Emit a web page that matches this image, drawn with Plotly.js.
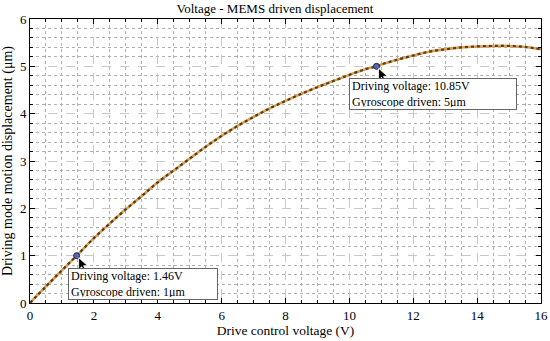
<!DOCTYPE html>
<html><head><meta charset="utf-8">
<script src="https://cdn.plot.ly/plotly-3.0.1.min.js"></script>
<style>html,body{margin:0;padding:0;background:#fff}#c{width:550px;height:341px}</style>
</head><body><div id="c"></div>
<script>
const voltage = [0,0.5,1,1.46,2,2.5,3,3.5,4,4.5,5,5.5,6,6.5,7,7.5,8,8.5,9,9.5,10,10.5,10.85,11,11.5,12,12.5,13,13.5,14,14.5,15,15.5,16];
const displacement = [0,0.35,0.69,1.0,1.37,1.68,1.98,2.26,2.55,2.8,3.05,3.3,3.53,3.74,3.93,4.11,4.27,4.42,4.56,4.69,4.82,4.94,5.0,5.04,5.14,5.23,5.31,5.36,5.40,5.42,5.43,5.43,5.41,5.36];
const markX = [1.46, 10.85];
const markY = [1, 5];
const markLabels = ['Driving voltage: 1.46V<br>Gyroscope driven: 1μm', 'Driving voltage: 10.85V<br>Gyroscope driven: 5μm'];
const labelPosX = [1.19, 10.0];
const labelPosY = [0.73, 4.75];
const labelWidths = [144, 162];

const font = 'Liberation Serif, Times New Roman, serif';
const traces = [
  {x: voltage, y: displacement, mode: 'lines', line: {color: '#d9a050', width: 2.6, shape: 'spline'}, hoverinfo: 'skip'},
  {x: voltage, y: displacement, mode: 'lines', line: {color: '#5a3a1a', width: 2.2, dash: 'dot', shape: 'spline'}},
  {x: markX, y: markY, mode: 'markers', marker: {size: 6, color: '#5566bb', line: {color: '#222244', width: 1}}}
];
const annotations = [];
const shapes = [];
const cursorPath = 'M 2 -2 L 2 -14 L 5 -11 L 8 -17 L 10 -16 L 7 -10 L 11 -10 Z';
for (let i = 0; i < markX.length; i++) {
  shapes.push({type: 'path', xref: 'x', yref: 'y', xsizemode: 'pixel', ysizemode: 'pixel',
    xanchor: markX[i], yanchor: markY[i], path: cursorPath,
    fillcolor: '#000', line: {color: '#fff', width: 0.8}});
  annotations.push({x: labelPosX[i], y: labelPosY[i], xref: 'x', yref: 'y', xanchor: 'left', yanchor: 'top',
    text: markLabels[i], showarrow: false, align: 'left', width: labelWidths[i], height: 26,
    bgcolor: '#fff', bordercolor: '#666', borderwidth: 1, borderpad: 2,
    font: {family: font, size: 12, color: '#000'}});
}
const axisCommon = {
  showline: true, linecolor: '#000', linewidth: 1, mirror: 'ticks', ticks: 'inside', ticklen: 5, tickcolor: '#000',
  showgrid: true, gridcolor: '#c8c8c8', griddash: 'dash', gridwidth: 1, zeroline: false,
  tickfont: {family: font, size: 13, color: '#000'},
};
const layout = {
  width: 550, height: 341,
  margin: {l: 30, r: 9, t: 19, b: 38},
  paper_bgcolor: '#fff', plot_bgcolor: '#fff',
  showlegend: false,
  title: {text: 'Voltage - MEMS driven displacement', font: {family: font, size: 13, color: '#000'}, x: 0.5, xanchor: 'center', y: 0.975, yanchor: 'middle'},
  xaxis: Object.assign({}, axisCommon, {range: [0, 16], dtick: 2, tick0: 0,
    minor: {dtick: 0.5, showgrid: true, gridcolor: '#b0b0b0', griddash: 'dot', ticks: 'inside', ticklen: 3, tickcolor: '#000'},
    title: {text: 'Drive control voltage (V)', font: {family: font, size: 13.5, color: '#000'}, standoff: 2}}),
  yaxis: Object.assign({}, axisCommon, {range: [0, 6], dtick: 1, tick0: 0,
    minor: {dtick: 0.2, showgrid: true, gridcolor: '#b0b0b0', griddash: 'dot', ticks: 'inside', ticklen: 3, tickcolor: '#000'},
    title: {text: 'Driving mode motion displacement (μm)', font: {family: font, size: 14, color: '#000'}, standoff: 4}}),
  annotations: annotations,
  shapes: shapes
};
Plotly.newPlot('c', traces, layout, {displayModeBar: false, staticPlot: true});
</script></body></html>
